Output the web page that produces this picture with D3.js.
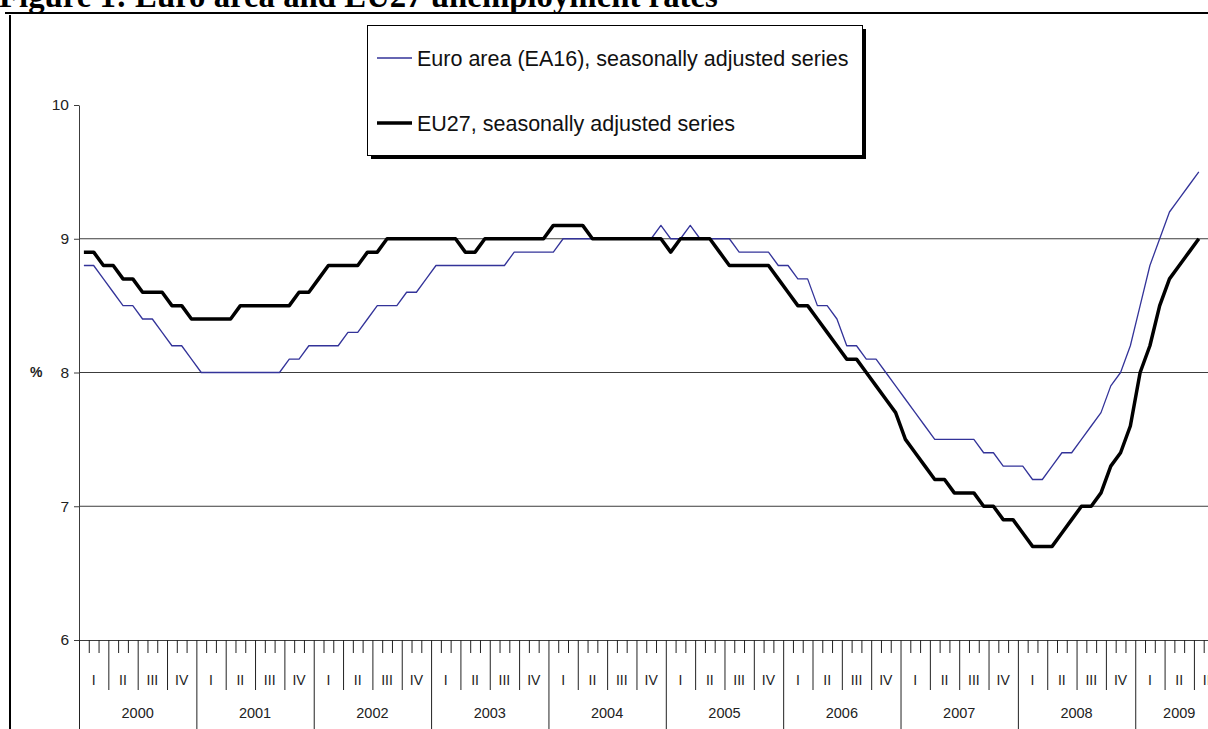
<!DOCTYPE html>
<html>
<head>
<meta charset="utf-8">
<script src="https://cdn.jsdelivr.net/npm/d3@7"></script>
<style>
  html, body { margin: 0; padding: 0; background: #fff; overflow: hidden; }
  svg { display: block; }
</style>
</head>
<body>
<div id="chart"></div>
<script>
// data: monthly rates, Jan 2000 .. Jul 2009
var years = ["2000", "2001", "2002", "2003", "2004", "2005", "2006", "2007", "2008", "2009"];
var quarters = ["I", "II", "III", "IV"];
var yTicks = [6, 7, 8, 9, 10];
var gridValues = [7, 8, 9];

var ea16 = [
  8.8, 8.8, 8.7, 8.6, 8.5, 8.5, 8.4, 8.4, 8.3, 8.2, 8.2, 8.1,
  8.0, 8.0, 8.0, 8.0, 8.0, 8.0, 8.0, 8.0, 8.0, 8.1, 8.1, 8.2,
  8.2, 8.2, 8.2, 8.3, 8.3, 8.4, 8.5, 8.5, 8.5, 8.6, 8.6, 8.7,
  8.8, 8.8, 8.8, 8.8, 8.8, 8.8, 8.8, 8.8, 8.9, 8.9, 8.9, 8.9,
  8.9, 9.0, 9.0, 9.0, 9.0, 9.0, 9.0, 9.0, 9.0, 9.0, 9.0, 9.1,
  9.0, 9.0, 9.1, 9.0, 9.0, 9.0, 9.0, 8.9, 8.9, 8.9, 8.9, 8.8,
  8.8, 8.7, 8.7, 8.5, 8.5, 8.4, 8.2, 8.2, 8.1, 8.1, 8.0, 7.9,
  7.8, 7.7, 7.6, 7.5, 7.5, 7.5, 7.5, 7.5, 7.4, 7.4, 7.3, 7.3,
  7.3, 7.2, 7.2, 7.3, 7.4, 7.4, 7.5, 7.6, 7.7, 7.9, 8.0, 8.2,
  8.5, 8.8, 9.0, 9.2, 9.3, 9.4, 9.5
];

var eu27 = [
  8.9, 8.9, 8.8, 8.8, 8.7, 8.7, 8.6, 8.6, 8.6, 8.5, 8.5, 8.4,
  8.4, 8.4, 8.4, 8.4, 8.5, 8.5, 8.5, 8.5, 8.5, 8.5, 8.6, 8.6,
  8.7, 8.8, 8.8, 8.8, 8.8, 8.9, 8.9, 9.0, 9.0, 9.0, 9.0, 9.0,
  9.0, 9.0, 9.0, 8.9, 8.9, 9.0, 9.0, 9.0, 9.0, 9.0, 9.0, 9.0,
  9.1, 9.1, 9.1, 9.1, 9.0, 9.0, 9.0, 9.0, 9.0, 9.0, 9.0, 9.0,
  8.9, 9.0, 9.0, 9.0, 9.0, 8.9, 8.8, 8.8, 8.8, 8.8, 8.8, 8.7,
  8.6, 8.5, 8.5, 8.4, 8.3, 8.2, 8.1, 8.1, 8.0, 7.9, 7.8, 7.7,
  7.5, 7.4, 7.3, 7.2, 7.2, 7.1, 7.1, 7.1, 7.0, 7.0, 6.9, 6.9,
  6.8, 6.7, 6.7, 6.7, 6.8, 6.9, 7.0, 7.0, 7.1, 7.3, 7.4, 7.6,
  8.0, 8.2, 8.5, 8.7, 8.8, 8.9, 9.0
];

var width = 1208, height = 729;
var monthW = 9.78;
var nMonths = 117; // axis runs to end of Q3 2009

var svg = d3.select("#chart").append("svg")
  .attr("width", width)
  .attr("height", height)
  .style("font-family", "Arial, 'Liberation Sans', sans-serif");

var x = d3.scaleLinear().domain([0, nMonths]).range([79, 79 + nMonths * monthW]);
var y = d3.scaleLinear().domain([6, 10]).range([640, 105]);

// Title (cut at top) and frame
var title = svg.append("text")
  .attr("x", -1)
  .attr("y", 7)
  .attr("font-family", "'Liberation Serif', 'Times New Roman', serif")
  .attr("font-weight", "bold")
  .attr("font-size", 26)
  .attr("fill", "#000")
  .text("Figure 1: Euro area and EU27 unemployment rates");
// fit title to the width seen in the figure
var tl = title.node().getComputedTextLength();
title.attr("font-size", 26 * 719 / tl);

svg.append("line")
  .attr("x1", 5).attr("x2", width)
  .attr("y1", 13).attr("y2", 13)
  .attr("stroke", "#000").attr("stroke-width", 2);
svg.append("line")
  .attr("x1", 10).attr("x2", 10)
  .attr("y1", 15).attr("y2", height)
  .attr("stroke", "#000").attr("stroke-width", 2);

// Gridlines
svg.append("g")
  .selectAll("line")
  .data(gridValues)
  .join("line")
  .attr("x1", 79).attr("x2", width)
  .attr("y1", d => y(d)).attr("y2", d => y(d))
  .attr("stroke", "#3c3c3c")
  .attr("stroke-width", 1);

// Y axis
var yAxis = svg.append("g")
  .attr("transform", "translate(79,0)")
  .call(d3.axisLeft(y).tickValues(yTicks).tickSize(5).tickSizeOuter(0).tickPadding(5).tickFormat(d3.format("d")));
yAxis.select(".domain").attr("stroke", "#3c3c3c");
yAxis.selectAll(".tick line").attr("stroke", "#3c3c3c");
yAxis.selectAll(".tick text")
  .attr("font-size", 15.5)
  .attr("font-family", "Arial, 'Liberation Sans', sans-serif")
  .attr("fill", "#222");

svg.append("text")
  .attr("x", 30)
  .attr("y", y(8))
  .attr("dy", "0.35em")
  .attr("font-size", 14)
  .attr("font-weight", "bold")
  .attr("fill", "#222")
  .text("%");

// X axis: month ticks, quarter and year separators
var xAxis = svg.append("g")
  .attr("transform", "translate(0," + y(6) + ")")
  .call(d3.axisBottom(x).tickValues(d3.range(0, nMonths + 1)).tickSize(13).tickSizeOuter(0).tickFormat(""));
xAxis.select(".domain").attr("stroke", "#3c3c3c");
xAxis.selectAll(".tick line")
  .attr("stroke", "#222")
  .attr("y2", function(d) {
    if (d % 12 === 0) return height - y(6);
    if (d % 3 === 0) return 50;
    return 13;
  });

var qLabels = [];
for (var q = 0; q < nMonths / 3; q++) qLabels.push({ pos: q * 3 + 1.5, label: quarters[q % 4] });
svg.append("g")
  .selectAll("text")
  .data(qLabels)
  .join("text")
  .attr("x", d => x(d.pos))
  .attr("y", 680)
  .attr("dy", "0.35em")
  .attr("text-anchor", "middle")
  .attr("font-size", 14)
  .attr("fill", "#222")
  .text(d => d.label);

// year label sits in the middle of the months that year has on the axis
svg.append("g")
  .selectAll("text")
  .data(years)
  .join("text")
  .attr("x", (d, i) => x((i * 12 + Math.min((i + 1) * 12, nMonths)) / 2))
  .attr("y", 713)
  .attr("dy", "0.35em")
  .attr("text-anchor", "middle")
  .attr("font-size", 14.5)
  .attr("fill", "#222")
  .text(d => d);

// Lines
var line = d3.line()
  .x((d, i) => x(i + 0.5))
  .y(d => y(d));

svg.append("path")
  .datum(ea16)
  .attr("fill", "none")
  .attr("stroke", "#333399")
  .attr("stroke-width", 1.3)
  .attr("stroke-linejoin", "round")
  .attr("d", line);

svg.append("path")
  .datum(eu27)
  .attr("fill", "none")
  .attr("stroke", "#000")
  .attr("stroke-width", 3.5)
  .attr("stroke-linejoin", "round")
  .attr("d", line);

// Legend
var legend = svg.append("g");
legend.append("rect")
  .attr("x", 371).attr("y", 29)
  .attr("width", 495).attr("height", 130)
  .attr("fill", "#000");
legend.append("rect")
  .attr("x", 367.5).attr("y", 25.5)
  .attr("width", 495).attr("height", 130)
  .attr("fill", "#fff")
  .attr("stroke", "#000")
  .attr("stroke-width", 1);

var legendItems = [
  { label: "Euro area (EA16), seasonally adjusted series", color: "#333399", w: 1.3, yy: 58 },
  { label: "EU27, seasonally adjusted series", color: "#000", w: 3.5, yy: 123 }
];
legendItems.forEach(function(d) {
  legend.append("line")
    .attr("x1", 377).attr("x2", 412)
    .attr("y1", d.yy).attr("y2", d.yy)
    .attr("stroke", d.color)
    .attr("stroke-width", d.w);
  legend.append("text")
    .attr("x", 417)
    .attr("y", d.yy)
    .attr("dy", "0.35em")
    .attr("font-size", 21.5)
    .attr("fill", "#111")
    .text(d.label);
});
</script>
</body>
</html>
